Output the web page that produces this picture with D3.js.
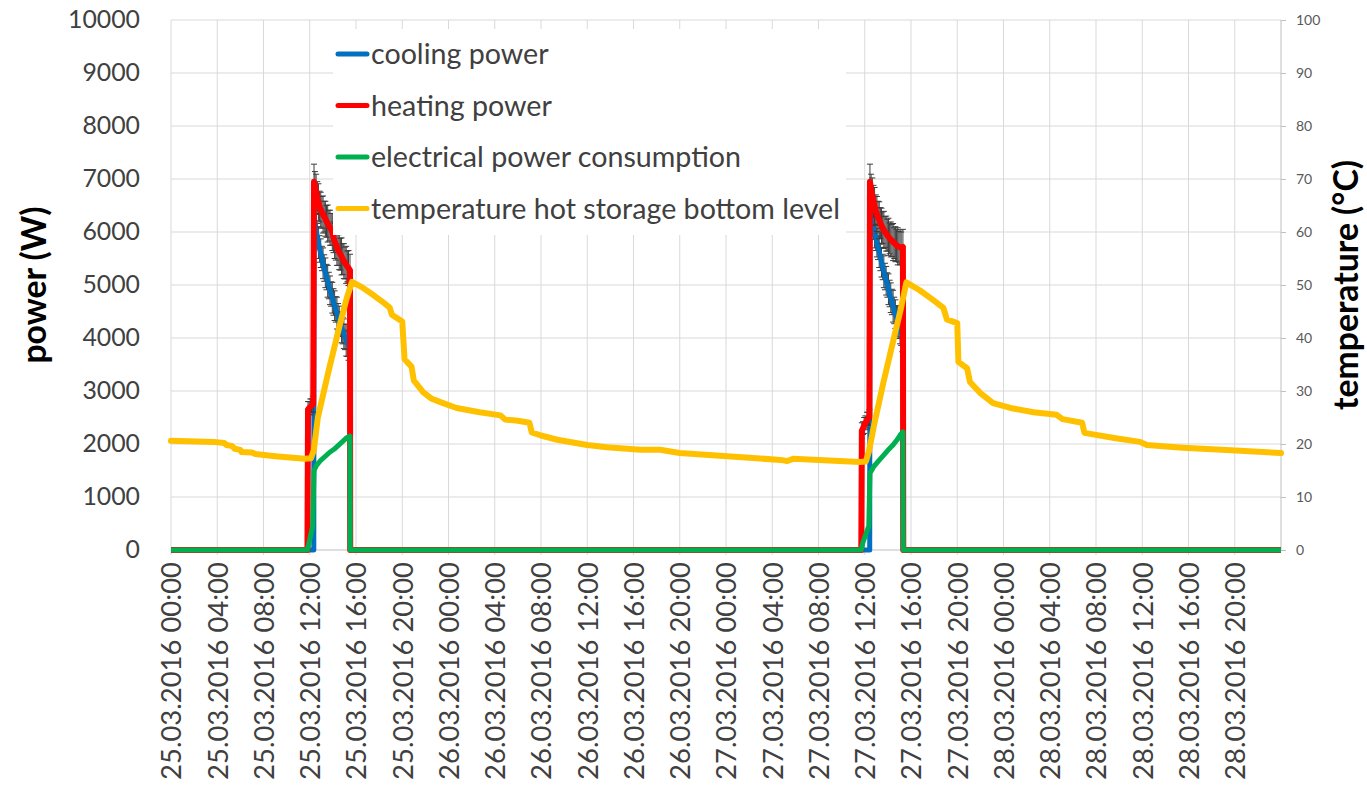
<!DOCTYPE html>
<html>
<head>
<meta charset="utf-8">
<script src="https://cdn.jsdelivr.net/npm/d3@7"></script>
<style>
  html, body { margin: 0; padding: 0; background: #fff; }
  svg { display: block; }
  text { font-family: Lato, "Open Sans", sans-serif; }
</style>
</head>
<body>
<svg id="chart" width="1367" height="787"></svg>
<script>
// ---------------- DATA (time in hours since 25.03.2016 00:00) ----------------
const xTickLabels = [
  "25.03.2016 00:00","25.03.2016 04:00","25.03.2016 08:00","25.03.2016 12:00",
  "25.03.2016 16:00","25.03.2016 20:00","26.03.2016 00:00","26.03.2016 04:00",
  "26.03.2016 08:00","26.03.2016 12:00","26.03.2016 16:00","26.03.2016 20:00",
  "27.03.2016 00:00","27.03.2016 04:00","27.03.2016 08:00","27.03.2016 12:00",
  "27.03.2016 16:00","27.03.2016 20:00","28.03.2016 00:00","28.03.2016 04:00",
  "28.03.2016 08:00","28.03.2016 12:00","28.03.2016 16:00","28.03.2016 20:00"
];
const xTickHours = [0,4,8,12,16,20,24,28,32,36,40,44,48,52,56,60,64,68,72,76,80,84,88,92];
const powerTicks = [0,1000,2000,3000,4000,5000,6000,7000,8000,9000,10000];
const tempTicks = [0,10,20,30,40,50,60,70,80,90,100];

// [hour, W, error bar (W)]
const coolingPower = [
  [0,0,0],[12.35,0,0],
  [12.37,6300,260],[12.45,6180,230],[12.55,6050,280],[12.65,5920,240],[12.75,5800,300],
  [12.85,5680,250],[12.95,5600,270],[13.05,5500,230],[13.15,5410,290],[13.25,5320,250],
  [13.35,5230,280],[13.45,5150,240],[13.55,5070,300],[13.65,4990,250],[13.75,4900,270],
  [13.85,4830,230],[13.95,4760,290],[14.05,4680,250],[14.15,4610,280],[14.25,4540,240],
  [14.35,4470,300],[14.45,4400,250],[14.55,4330,270],[14.65,4260,230],[14.75,4200,290],
  [14.85,4140,250],[14.95,4080,280],[15.05,4020,240],[15.15,3960,300],[15.25,3900,250],
  [15.35,3850,270],[15.48,3800,250],[15.5,0,0],
  [60.43,0,0],
  [60.45,6400,260],[60.55,6300,230],[60.65,6200,280],[60.75,6100,240],[60.85,6000,300],
  [60.95,5900,250],[61.05,5800,270],[61.15,5710,230],[61.25,5620,290],[61.35,5520,250],
  [61.45,5430,280],[61.55,5340,240],[61.65,5250,300],[61.75,5160,250],[61.85,5080,270],
  [61.95,5000,230],[62.05,4920,290],[62.15,4840,250],[62.25,4760,280],[62.35,4680,240],
  [62.45,4600,300],[62.55,4520,250],[62.65,4450,270],[62.75,4380,230],[62.85,4310,290],
  [62.95,4240,250],[63.05,4170,280],[63.15,4100,240],[63.25,4040,300],[63.3,4000,250],
  [63.33,0,0],[96,0,0]
];
const heatingPower = [
  [0,0,0],[11.8,0,0],[11.85,2650,150],[11.95,2680,120],[12.05,2700,150],[12.15,2720,130],
  [12.3,2750,150],
  [12.37,6950,330],[12.45,6850,290],[12.55,6750,340],[12.65,6650,300],[12.75,6560,350],
  [12.85,6480,290],[12.95,6420,330],[13.05,6370,300],[13.15,6330,350],[13.25,6290,290],
  [13.35,6250,330],[13.45,6200,300],[13.55,6160,350],[13.65,6120,290],[13.75,6080,330],
  [13.85,6050,300],[13.95,6000,350],[14.05,5900,290],[14.15,5830,330],[14.25,5770,300],
  [14.35,5720,350],[14.45,5660,290],[14.55,5620,330],[14.65,5580,300],[14.75,5540,350],
  [14.85,5490,290],[14.95,5450,330],[15.05,5415,300],[15.15,5380,350],[15.25,5350,290],
  [15.35,5320,330],[15.48,5280,300],[15.5,0,0],
  [59.7,0,0],[59.75,2250,150],[59.85,2300,120],[59.95,2350,150],[60.05,2400,130],
  [60.2,2450,150],[60.3,2480,120],[60.4,2500,150],
  [60.45,6950,330],[60.55,6800,290],[60.65,6680,340],[60.75,6580,300],[60.85,6490,350],
  [60.95,6410,290],[61.05,6340,330],[61.15,6280,300],[61.25,6220,350],[61.35,6170,290],
  [61.45,6120,330],[61.55,6080,300],[61.65,6040,350],[61.75,6000,290],[61.85,5970,330],
  [61.95,5940,300],[62.05,5910,350],[62.15,5880,290],[62.25,5860,330],[62.35,5840,300],
  [62.45,5810,350],[62.55,5790,290],[62.65,5770,330],[62.75,5750,300],[62.85,5730,350],
  [62.95,5720,290],[63.05,5710,330],[63.15,5700,300],[63.3,5720,330],[63.33,0,0],[96,0,0]
];
// [hour, W]
const electricalPower = [
  [0,0],[11.8,0],[11.9,100],[12.1,300],[12.25,450],[12.37,1500],[12.6,1600],[12.9,1680],
  [13.3,1760],[13.7,1840],[14.1,1900],[14.5,1980],[14.9,2060],[15.2,2120],[15.48,2150],
  [15.5,0],[59.7,0],[59.85,150],[60.1,300],[60.35,450],[60.45,1450],[60.8,1580],
  [61.2,1680],[61.6,1780],[62.0,1880],[62.4,1970],[62.8,2080],[63.1,2180],[63.3,2230],
  [63.33,0],[96,0]
];
// [hour, °C]
const tempHotStorageBottom = [
  [0,20.6],[3.7,20.4],[4.6,20.2],[4.8,19.8],[5.3,19.6],[5.5,19.1],[6.0,18.9],[6.1,18.5],
  [7.0,18.4],[7.3,18.1],[9.0,17.7],[11.6,17.2],[12.1,17.3],[12.35,18.8],[12.7,25],
  [13.6,33.5],[14.6,42.5],[15.2,47.5],[15.65,50.6],[16.5,49.6],[17.5,48.1],[18.3,46.8],
  [18.9,45.8],[19.1,44.4],[20.0,43.1],[20.2,36.0],[20.8,34.6],[21.0,32.0],[21.8,29.8],
  [22.5,28.6],[23.3,27.9],[24.7,26.8],[26.7,26.0],[28.5,25.4],[28.9,24.6],[30.0,24.4],
  [31.0,24.0],[31.2,22.2],[32.0,21.6],[33.4,20.8],[36.0,19.8],[37.7,19.4],[40.6,18.9],
  [42.3,18.9],[44.0,18.3],[48.1,17.7],[52.7,17.0],[53.3,16.8],[53.8,17.2],[59.6,16.6],
  [60.1,16.7],[60.35,18.5],[60.8,23.5],[61.6,31.5],[62.5,39.8],[63.1,45.3],[63.6,50.5],
  [64.75,49.0],[65.9,47.2],[66.8,45.7],[67.1,43.5],[68.0,42.8],[68.1,35.5],[68.85,34.3],
  [69.1,31.7],[70.0,29.6],[71.1,27.7],[72.6,26.8],[74.6,26.0],[76.6,25.5],[77.1,24.7],
  [78.8,24.0],[79.0,22.1],[81.7,21.1],[83.8,20.4],[84.4,19.8],[87.5,19.3],[90.9,18.9],
  [96,18.3]
];
const legendItems = [
  { name: "cooling power", color: "#0070C0" },
  { name: "heating power", color: "#FF0000" },
  { name: "electrical power consumption", color: "#00B050" },
  { name: "temperature hot storage bottom level", color: "#FFC000" }
];

// ---------------- LAYOUT ----------------
const svg = d3.select("#chart");
const L = 171, R = 1281, T = 20, B = 550;
const x = d3.scaleLinear().domain([0, 96]).range([L, R]);
const yP = d3.scaleLinear().domain([0, 10000]).range([B, T]);
const yT = d3.scaleLinear().domain([0, 100]).range([B, T]);
const gridColor = "#d9d9d9", axisColor = "#bfbfbf", labelColor = "#404040";

svg.append("rect").attr("width", 1367).attr("height", 787).attr("fill", "#fff");

// gridlines
svg.append("g").selectAll("line").data(powerTicks.slice(1)).join("line")
  .attr("x1", L).attr("x2", R).attr("y1", d => yP(d)).attr("y2", d => yP(d))
  .attr("stroke", gridColor).attr("stroke-width", 1);
svg.append("g").selectAll("line").data(xTickHours).join("line")
  .attr("x1", d => x(d)).attr("x2", d => x(d)).attr("y1", T).attr("y2", B + 5)
  .attr("stroke", gridColor).attr("stroke-width", 1);

// axis lines
svg.append("line").attr("x1", L).attr("x2", R).attr("y1", B).attr("y2", B)
  .attr("stroke", axisColor).attr("stroke-width", 1);
svg.append("line").attr("x1", R).attr("x2", R).attr("y1", T).attr("y2", B)
  .attr("stroke", axisColor).attr("stroke-width", 1);

// left axis
const leftAxis = d3.axisLeft(yP).tickValues(powerTicks).tickSize(0).tickPadding(0)
  .tickFormat(d3.format("d"));
const gL = svg.append("g").attr("transform", `translate(${L - 31},0)`).call(leftAxis);
gL.select(".domain").remove();
gL.selectAll("text").attr("fill", labelColor).attr("font-size", 25.5).attr("font-family", "Lato");

// right axis
const rightAxis = d3.axisRight(yT).tickValues(tempTicks).tickSize(5).tickPadding(10);
const gR = svg.append("g").attr("transform", `translate(${R},0)`).call(rightAxis);
gR.select(".domain").remove();
gR.selectAll("line").attr("stroke", axisColor);
gR.selectAll("text").attr("fill", "#595959").attr("font-size", 14).attr("font-family", "Lato");

// bottom axis labels (rotated)
const bottomAxis = d3.axisBottom(x).tickValues(xTickHours).tickSize(0)
  .tickFormat((d, i) => xTickLabels[i]);
const gB = svg.append("g").attr("transform", `translate(0,${B})`).call(bottomAxis);
gB.select(".domain").remove();
gB.selectAll("text")
  .attr("fill", labelColor).attr("font-size", 23.5).attr("font-family", "Lato")
  .attr("text-anchor", "end")
  .attr("transform", "rotate(-90)")
  .attr("x", -12).attr("y", 0).attr("dy", "0.36em");

// axis titles
const tP = svg.append("text").text("power (W)")
  .attr("transform", `translate(46,${(T + B) / 2}) rotate(-90)`)
  .attr("text-anchor", "middle").attr("font-weight", "bold")
  .attr("font-size", 29).attr("fill", "#000");
const tT = svg.append("text").text("temperature (°C)")
  .attr("transform", `translate(1358,${(T + B) / 2}) rotate(-90)`)
  .attr("text-anchor", "middle").attr("font-weight", "bold")
  .attr("font-size", 29).attr("fill", "#000");

// ---------------- SERIES ----------------
const lineP = d3.line().x(d => x(d[0])).y(d => yP(d[1]));
const lineT = d3.line().x(d => x(d[0])).y(d => yT(d[1]));

function errorBars(data) {
  const g = svg.append("g").attr("stroke", "#3c3c3c").attr("stroke-width", 1).attr("fill", "none");
  const pts = data.filter(d => d[2] > 0);
  g.selectAll("path").data(pts).join("path")
    .attr("d", d => {
      const cx = x(d[0]), y1 = yP(d[1] + d[2]), y2 = yP(d[1] - d[2]);
      return `M${cx},${y1}V${y2}M${cx - 3},${y1}H${cx + 3}M${cx - 3},${y2}H${cx + 3}`;
    });
}

errorBars(coolingPower);
svg.append("path").datum(coolingPower).attr("d", lineP)
  .attr("fill", "none").attr("stroke", "#0070C0").attr("stroke-width", 5)
  .attr("stroke-linejoin", "round");
errorBars(heatingPower);
svg.append("path").datum(heatingPower).attr("d", lineP)
  .attr("fill", "none").attr("stroke", "#FF0000").attr("stroke-width", 6)
  .attr("stroke-linejoin", "round");
svg.append("path").datum(electricalPower).attr("d", lineP)
  .attr("fill", "none").attr("stroke", "#00B050").attr("stroke-width", 5)
  .attr("stroke-linejoin", "round");
svg.append("path").datum(tempHotStorageBottom).attr("d", lineT)
  .attr("fill", "none").attr("stroke", "#FFC000").attr("stroke-width", 6)
  .attr("stroke-linejoin", "round").attr("stroke-linecap", "round");

// ---------------- LEGEND ----------------
const lg = svg.append("g");
lg.append("rect").attr("x", 333).attr("y", 29).attr("width", 513).attr("height", 206).attr("fill", "#fff");
const rows = lg.selectAll("g.item").data(legendItems).join("g").attr("class", "item")
  .attr("transform", (d, i) => `translate(0,${54 + i * 51.5})`);
rows.append("line").attr("x1", 338).attr("x2", 367).attr("y1", 0).attr("y2", 0)
  .attr("stroke", d => d.color).attr("stroke-width", 5).attr("stroke-linecap", "round");
const lt = rows.append("text").attr("x", 371).attr("y", 0).attr("dy", "0.35em")
  .attr("fill", labelColor).attr("font-size", 26).text(d => d.name);

// fit font sizes to the widths measured on the reference
function fit(sel, target) {
  const node = sel.node();
  const fs = parseFloat(sel.attr("font-size"));
  const w = node.getComputedTextLength();
  if (w > 0) sel.attr("font-size", (fs * target / w).toFixed(2));
  return parseFloat(sel.attr("font-size"));
}
const legFs = fit(lt.filter((d, i) => i === 3), 469);
lt.attr("font-size", legFs);
const leftFs = fit(gL.selectAll("text").filter(d => d === 10000), 72);
gL.selectAll("text").attr("font-size", leftFs);
const botFs = fit(gB.selectAll("text").filter((d, i) => i === 0), 218);
gB.selectAll("text").attr("font-size", botFs);
const titleFs = fit(tT, 250);
tP.attr("font-size", titleFs);
</script>
</body>
</html>
